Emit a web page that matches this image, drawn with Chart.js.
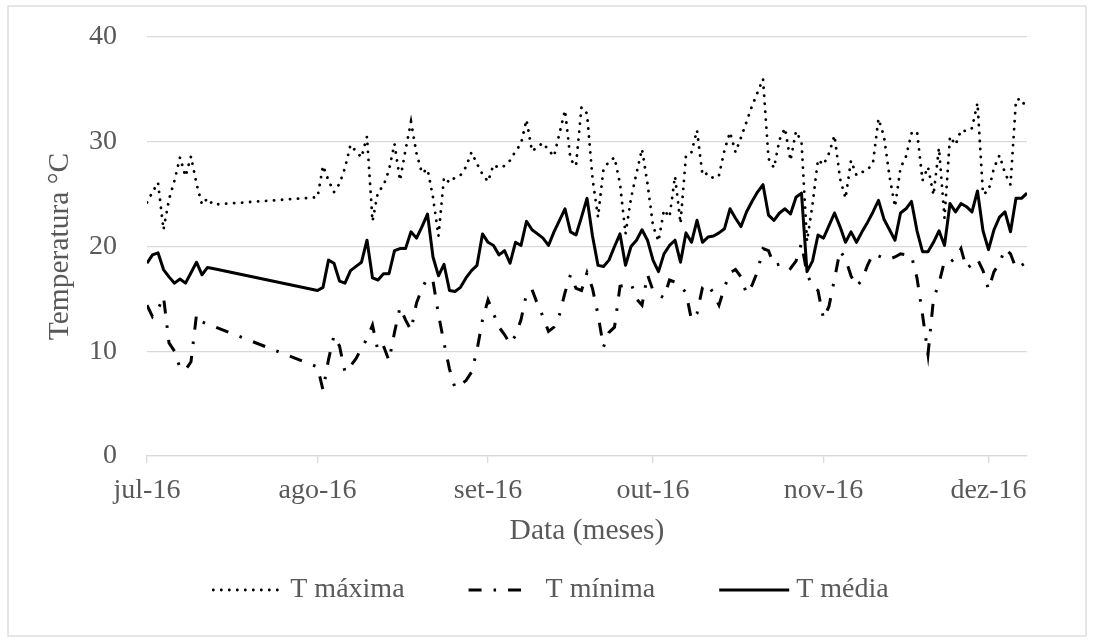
<!DOCTYPE html>
<html>
<head>
<meta charset="utf-8">
<script src="https://cdn.jsdelivr.net/npm/chart.js@4.4.1/dist/chart.umd.min.js"></script>
<style>
  html, body { margin: 0; padding: 0; background: #fff; }
  #wrap { width: 1094px; height: 642px; }
</style>
</head>
<body>
<div id="wrap"><canvas id="tempChart" width="1094" height="642"></canvas></div>
<script>
// month ticks (day index counted from 1 Jul 2016)
const MESES = ['jul-16', 'ago-16', 'set-16', 'out-16', 'nov-16', 'dez-16'];
const INICIO_MES = [0, 31, 62, 92, 123, 153];

// days with data: 1-13 Jul, then 1 Aug - 8 Dec
const DIAS = [];
for (let d = 0; d <= 12; d++) DIAS.push(d);
for (let d = 31; d <= 160; d++) DIAS.push(d);

const T_MAX = [
    24.2, 25.2, 26.1, 21.6, 24.5, 26.3, 28.5, 26.7, 28.6, 26.0, 24.0, 24.6, 24.0,
    24.7, 27.7, 26.3, 25.2, 26.0, 27.5, 29.7, 29.1, 28.5, 30.5,
    22.4, 25.2, 25.8, 27.3, 29.8, 26.3, 29.2, 31.9, 28.9, 27.0,
    27.4, 24.7, 21.0, 26.6, 26.1, 26.6, 26.8, 27.6, 29.0, 27.9,
    26.9, 26.2, 27.8, 27.5, 27.7, 28.2, 29.1, 29.8, 32.1, 29.1,
    29.5, 29.9, 29.2, 28.6, 30.8, 33.0, 28.3, 27.7, 33.3, 32.7,
    26.5, 22.8, 27.4, 28.1, 28.5, 26.0, 21.2, 24.6, 27.0, 29.3,
    26.0, 22.0, 20.5, 23.5, 22.8, 26.7, 22.2, 28.7, 29.0, 31.1,
    26.8, 27.0, 26.5, 26.8, 29.2, 30.9, 29.0, 30.4, 31.9, 33.4,
    34.7, 36.0, 28.4, 27.5, 30.2, 31.3, 28.2, 31.0, 30.0, 20.5,
    24.0, 28.3, 27.8, 28.9, 30.6, 26.5, 24.6, 28.2, 26.8, 27.1,
    27.3, 28.0, 32.2, 30.5, 26.7, 23.8, 27.5, 28.6, 30.8, 31.0,
    26.3, 27.6, 24.9, 29.4, 22.7, 30.5, 29.7, 31.1, 31.0, 31.3,
    33.7, 25.0, 25.3, 27.5, 28.7, 27.0, 25.9, 34.0, 34.1, 33.0
];

const T_MIN = [
    14.4, 13.3, 14.0, 15.2, 10.8, 10.0, 8.4, 8.2, 9.0, 13.5, 12.8, 12.6, 12.4,
    8.5, 6.3, 9.2, 11.5, 10.5, 8.0, 8.6, 9.3, 10.3, 11.2,
    12.5, 10.0, 10.5, 9.1, 11.8, 14.2, 13.0, 12.0, 14.6, 16.0,
    17.0, 16.7, 13.5, 10.8, 8.3, 6.5, 6.8, 7.2, 8.0, 10.1,
    13.0, 14.9, 13.6, 12.3, 11.6, 10.7, 11.5, 13.0, 15.5, 15.9,
    14.5, 13.3, 11.9, 12.3, 13.5, 15.6, 17.3, 16.0, 15.8, 17.5,
    16.0, 13.5, 10.4, 11.8, 12.3, 16.2, 16.3, 16.5, 15.0, 14.4,
    17.3, 15.8, 15.4, 15.1, 16.8, 16.6, 16.2, 15.6, 13.0, 13.6,
    16.1, 16.4, 15.5, 14.4, 16.1, 17.5, 17.8, 17.1, 15.5, 16.3,
    17.6, 19.8, 19.6, 18.2, 18.3, 18.4, 17.9, 18.6, 20.3, 17.4,
    16.2, 15.8, 13.1, 14.3, 16.9, 19.6, 18.8, 17.2, 16.2, 16.8,
    18.2, 19.3, 19.1, 18.9, 18.8, 19.0, 19.3, 19.2, 19.1, 17.0,
    13.5, 9.7, 15.0, 16.5, 18.6, 18.5, 18.9, 19.8, 17.9, 18.3,
    18.8, 17.7, 15.9, 17.6, 18.4, 19.8, 19.3, 17.9, 18.2, 18.5
];

const T_MED = [
    18.4, 19.2, 19.4, 17.8, 17.1, 16.5, 16.9, 16.5, 17.5, 18.5, 17.3, 18.0, 17.9,
    15.8, 16.1, 18.7, 18.4, 16.7, 16.5, 17.7, 18.1, 18.5, 20.6,
    17.0, 16.8, 17.4, 17.4, 19.6, 19.8, 19.8, 21.4, 20.8, 21.9,
    23.1, 19.0, 17.2, 18.3, 15.8, 15.7, 16.1, 17.0, 17.7, 18.2,
    21.2, 20.4, 20.1, 19.2, 19.6, 18.4, 20.4, 20.1, 22.4, 21.6,
    21.2, 20.8, 20.1, 21.4, 22.5, 23.6, 21.4, 21.1, 22.8, 24.6,
    21.0, 18.2, 18.1, 18.7, 20.0, 21.2, 18.2, 20.0, 20.6, 21.6,
    20.6, 18.7, 17.6, 19.3, 20.1, 20.6, 18.5, 21.3, 20.4, 22.5,
    20.4, 20.9, 21.0, 21.3, 21.7, 23.6, 22.7, 21.9, 23.3, 24.3,
    25.2, 25.9, 23.0, 22.5, 23.2, 23.6, 23.1, 24.7, 25.1, 17.6,
    18.6, 21.1, 20.8, 22.0, 23.2, 21.9, 20.4, 21.4, 20.4, 21.4,
    22.3, 23.3, 24.4, 22.6, 21.6, 20.6, 23.2, 23.6, 24.3, 21.5,
    19.5, 19.5, 20.4, 21.5, 20.1, 24.1, 23.3, 24.1, 23.8, 23.3,
    25.3, 21.5, 19.7, 21.6, 22.8, 23.3, 21.4, 24.6, 24.6, 25.1
];

const FONT = "'Times New Roman', 'Liberation Serif', serif";
const TEXT_COLOR = '#595959';
const GRID_COLOR = '#d9d9d9';

function toXY(values) {
    return values.map((v, i) => ({ x: DIAS[i], y: v }));
}

// white background + outer frame
const framePlugin = {
    id: 'frame',
    beforeDraw(chart) {
        const ctx = chart.ctx;
        ctx.save();
        ctx.fillStyle = '#fff';
        ctx.fillRect(0, 0, chart.width, chart.height);
        ctx.restore();
    },
    afterDraw(chart) {
        const ctx = chart.ctx;
        ctx.save();
        ctx.strokeStyle = GRID_COLOR;
        ctx.lineWidth = 1.3;
        ctx.strokeRect(8, 6, 1078, 630);
        ctx.restore();
    }
};

// legend drawn by hand so the dash patterns show in the samples
const LEGEND_LINE = [70, 56, 70];
const legendPlugin = {
    id: 'legendaLinhas',
    afterDraw(chart) {
        const ctx = chart.ctx;
        const sets = chart.data.datasets;
        const sample = 70, gapText = 7, gapItem = 64;
        const y = 590;
        ctx.save();
        ctx.font = '28px ' + FONT;
        const widths = sets.map(ds => sample + gapText + ctx.measureText(ds.label).width);
        const total = widths.reduce((a, b) => a + b, 0) + gapItem * (sets.length - 1);
        let x = 551 - total / 2;
        sets.forEach((ds, i) => {
            ctx.beginPath();
            ctx.setLineDash(ds.borderDash || []);
            ctx.lineCap = ds.borderCapStyle || 'butt';
            ctx.lineWidth = ds.borderWidth;
            ctx.strokeStyle = ds.borderColor;
            ctx.moveTo(x, y);
            ctx.lineTo(x + LEGEND_LINE[i], y);
            ctx.stroke();
            ctx.setLineDash([]);
            ctx.fillStyle = TEXT_COLOR;
            ctx.textBaseline = 'middle';
            ctx.textAlign = 'left';
            ctx.fillText(ds.label, x + sample + gapText, y);
            x += widths[i] + gapItem;
        });
        ctx.restore();
    }
};

const ctx = document.getElementById('tempChart').getContext('2d');
new Chart(ctx, {
    type: 'line',
    data: {
        datasets: [
            {
                label: 'T máxima',
                data: toXY(T_MAX),
                borderColor: '#000',
                borderWidth: 2.8,
                borderDash: [0.1, 7.9],
                borderCapStyle: 'round',
                pointRadius: 0,
                tension: 0
            },
            {
                label: 'T mínima',
                data: toXY(T_MIN),
                borderColor: '#000',
                borderWidth: 3,
                borderDash: [13, 12, 2.5, 12],
                borderCapStyle: 'butt',
                pointRadius: 0,
                tension: 0
            },
            {
                label: 'T média',
                data: toXY(T_MED),
                borderColor: '#000',
                borderWidth: 3,
                borderCapStyle: 'butt',
                borderJoinStyle: 'round',
                pointRadius: 0,
                tension: 0
            }
        ]
    },
    options: {
        responsive: false,
        animation: false,
        devicePixelRatio: 1,
        layout: { padding: { top: 37, left: 9, right: 67, bottom: 95 } },
        scales: {
            x: {
                type: 'linear',
                min: 0,
                max: 160,
                afterBuildTicks: (scale) => {
                    scale.ticks = INICIO_MES.map(v => ({ value: v }));
                },
                afterFit: (scale) => { scale.height = 91; },
                ticks: {
                    autoSkip: false,
                    maxRotation: 0,
                    padding: 11,
                    color: TEXT_COLOR,
                    font: { family: FONT, size: 28 },
                    callback: (value) => MESES[INICIO_MES.indexOf(value)]
                },
                grid: {
                    drawOnChartArea: false,
                    drawTicks: true,
                    tickLength: 7,
                    color: GRID_COLOR,
                    lineWidth: 1.3
                },
                border: { display: true, color: GRID_COLOR, width: 1.3 },
                title: {
                    display: true,
                    text: 'Data (meses)',
                    color: TEXT_COLOR,
                    font: { family: FONT, size: 29.5 },
                    padding: { top: 0, bottom: -2 }
                }
            },
            y: {
                min: 0,
                max: 40,
                afterFit: (scale) => { scale.width = 138; },
                ticks: {
                    stepSize: 10,
                    padding: 2,
                    color: TEXT_COLOR,
                    font: { family: FONT, size: 28 }
                },
                grid: {
                    // invisible tick marks keep the labels 30px away from the plot
                    drawTicks: true,
                    tickLength: 28,
                    tickColor: 'rgba(0,0,0,0)',
                    color: GRID_COLOR,
                    lineWidth: 1.3
                },
                border: { display: false },
                title: {
                    display: true,
                    text: 'Temperatura °C',
                    color: TEXT_COLOR,
                    font: { family: FONT, size: 29.5 },
                    padding: { top: 34, bottom: 0 }
                }
            }
        },
        plugins: {
            legend: { display: false },
            tooltip: { enabled: false }
        }
    },
    plugins: [framePlugin, legendPlugin]
});
</script>
</body>
</html>
